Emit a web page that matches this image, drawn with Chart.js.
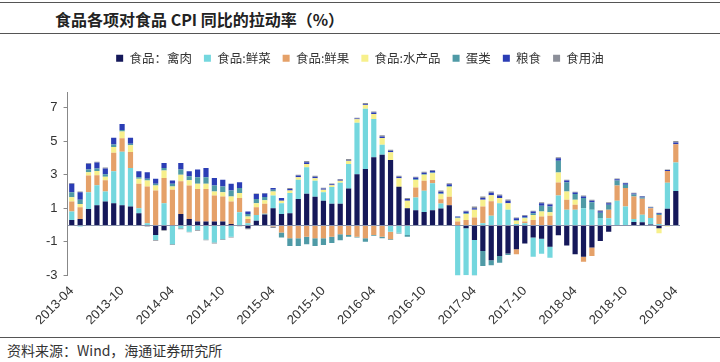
<!DOCTYPE html>
<html>
<head>
<meta charset="utf-8">
<script src="https://cdn.jsdelivr.net/npm/chart.js@4.4.1/dist/chart.umd.min.js"></script>
<style>
  body { margin: 0; width: 720px; height: 362px; background: #fff; position: relative; overflow: hidden;
         font-family: "Noto Sans CJK SC", "Noto Sans", sans-serif; color: #333; }
  .title { position: absolute; left: 0; top: 2px; width: 720px; height: 32px; border-top: 1.5px solid #555;
           border-bottom: 1.5px solid #555; box-sizing: border-box; }
  .title span { position: absolute; left: 55px; top: 4px; font-size: 16px; font-weight: bold; color: #222; }
  .chart-box { position: absolute; left: 0; top: 40px; width: 720px; height: 295px; }
  .foot { position: absolute; left: 0; top: 337px; width: 720px; border-top: 1.5px solid #555; }
  .foot span { position: absolute; left: 7px; top: 2px; font-size: 14px; color: #333; white-space: nowrap; }
</style>
</head>
<body>
<div class="title"><span>食品各项对食品 CPI 同比的拉动率（%）</span></div>
<div class="chart-box"><canvas id="cpiChart" width="720" height="295"></canvas></div>
<div class="foot"><span>资料来源：Wind，海通证券研究所</span></div>

<script>
// months 2013-04 .. 2019-04
const months = [];
for (let y = 2013, m = 4; y < 2019 || (y === 2019 && m <= 4); m++) {
  if (m > 12) { m = 1; y++; }
  if (y === 2019 && m > 4) break;
  months.push(y + "-" + String(m).padStart(2, "0"));
}

const yTicks = [-3, -1, 1, 3, 5, 7];

// pull on food CPI yoy, percentage points
const meat = [0.3, 0.35, 0.95, 1.17, 1.4, 1.3, 1.17, 1.1, 0.7, -0.05,
  -0.6, -0.3, -0.05, 0.65, 0.36, 0.2, 0.2, 0.2, 0.2, 0.05,
  0.0, -0.2, 0.25, 0.62, 1.0, 0.65, 0.7, 1.55, 1.86, 1.68,
  1.45, 1.27, 1.27, 2.18, 3.03, 3.33, 4.04, 4.18, 3.88, 2.28,
  1.0, 0.88, 0.77, 0.88, 0.98, 1.18, -0.05, -0.2, -0.9, -1.55,
  -2.1, -1.85, -1.7, -1.45, -1.1, -0.75, -0.82, -1.3, -0.62, -1.22,
  -1.75, -1.9, -1.35, -0.96, -0.4, -0.05, -0.03, 0.18, 0.16, 0.02,
  -0.2, 0.96, 2.02];
const vegetables = [0.5, -0.1, 1.0, 1.2, 0.6, 1.9, 3.2, 2.3, 0.3, 0.1,
  -0.3, 1.3, -1.1, -0.2, -0.4, -0.3, -0.87, -1.05, -0.85, -0.7,
  0.75, 0.1, 0.35, 0.05, 0.75, 0.65, 1.2, 1.15, 1.58, 0.95,
  0.5, 1.0, 1.25, 1.45, 3.07, 3.6, 2.28, 0.6, -0.4, -0.46,
  -0.6, 0.75, 1.27, 1.6, 0.3, -0.05, -3.0, -2.8, -2.1, 0.1,
  0.55, 1.3, 0.9, 0.05, 0.1, -1.15, -0.9, -0.65, 1.76, 0.9,
  0.9, 1.0, 0.9, 0.42, 0.4, 1.45, 1.1, 0.17, 0.45, 0.4,
  0.05, 1.56, 1.7];
const fruit = [0.6, 0.7, 1.0, 0.6, 0.67, 1.1, 0.8, 0.95, 1.45, 2.2,
  2.05, 1.5, 2.1, 1.95, 2.0, 1.95, 1.95, 1.55, 1.5, 1.35,
  0.85, 0.25, 0.45, 0.6, -0.1, -0.45, -0.8, -0.8, -0.7, -0.8,
  -0.8, -0.7, -0.55, -0.6, -0.7, -0.8, -0.6, -0.7, -0.45, 0.0,
  0.0, 0.6, 0.6, 0.2, 0.25, 0.5, 0.2, 0.3, 0.45, 1.0,
  0.87, 0.0, 0.0, -0.3, 0.1, 0.3, 0.5, 0.55, 0.77, 0.6,
  0.3, -0.3, -0.5, 0.0, 0.5, 0.9, 1.1, 1.35, 0.95, 0.58,
  0.55, 0.7, 1.1];
const aquatic = [0.25, 0.2, 0.2, 0.25, 0.2, 0.35, 0.4, 0.4, 0.3, 0.35,
  0.3, 0.45, 0.2, 0.4, 0.3, 0.3, 0.3, 0.25, 0.25, 0.3,
  0.3, 0.15, 0.25, 0.2, 0.25, 0.15, 0.15, 0.15, 0.2, 0.15,
  0.15, 0.1, 0.12, 0.2, 0.2, 0.22, 0.3, 0.4, 0.45, 0.5,
  0.45, 0.45, 0.35, 0.4, 0.3, 0.6, 0.2, 0.35, 0.45, 0.4,
  0.35, 0.3, 0.4, 0.2, 0.2, 0.3, 0.3, 0.2, 0.6, 0.5,
  0.3, 0.0, 0.0, 0.0, 0.0, 0.0, 0.0, 0.0, 0.0, 0.0,
  -0.3, -0.1, -0.05];
const eggs = [0.3, 0.25, 0.15, 0.15, 0.15, 0.15, 0.1, 0.1, 0.1, 0.1,
  0.1, 0.15, 0.15, 0.3, 0.25, 0.4, 0.4, 0.35, 0.35, 0.35,
  0.3, 0.15, 0.25, 0.2, 0.1, -0.3, -0.45, -0.45, -0.45, -0.45,
  -0.4, -0.37, -0.37, -0.1, -0.05, -0.2, -0.05, -0.1, -0.05, -0.05,
  -0.1, 0.05, 0.05, 0.05, 0.05, 0.05, 0.05, 0.05, -0.05, -0.9,
  -0.3, -0.4, -0.1, 0.05, 0.05, 0.1, 0.35, 0.35, 0.7, 0.55,
  0.35, 0.6, 0.45, 0.3, 0.3, 0.3, 0.2, 0.12, 0.08, 0.03,
  0.05, 0.0, 0.0];
const grain = [0.5, 0.45, 0.35, 0.35, 0.35, 0.4, 0.35, 0.35, 0.35, 0.4,
  0.3, 0.3, 0.2, 0.4, 0.3, 0.45, 0.55, 0.45, 0.4, 0.4,
  0.35, 0.15, 0.3, 0.2, 0.1, 0.15, 0.1, 0.1, 0.1, 0.1,
  0.07, 0.05, 0.05, 0.05, 0.05, 0.05, 0.08, 0.1, 0.1, 0.1,
  0.1, 0.1, 0.08, 0.1, 0.1, 0.1, 0.05, 0.1, 0.1, 0.1,
  0.15, 0.15, 0.15, 0.1, 0.1, 0.1, 0.15, 0.12, 0.15, 0.1,
  0.08, 0.1, 0.1, 0.1, 0.1, 0.08, 0.08, 0.05, 0.05, 0.03,
  0.05, 0.05, 0.1];
const oil = [0.05, 0.05, 0.05, 0.05, 0.05, -0.05, -0.06, -0.05, -0.05, -0.05,
  -0.05, -0.05, -0.05, -0.05, -0.04, -0.05, -0.05, -0.05, -0.05, -0.05,
  -0.08, -0.05, 0.03, 0.03, -0.08, 0.0, 0.05, 0.05, 0.08, 0.05,
  0.05, 0.05, 0.05, 0.05, 0.05, 0.07, 0.07, 0.07, 0.05, 0.05,
  0.05, 0.05, 0.05, 0.05, 0.07, 0.05, 0.0, 0.05, 0.1, 0.1,
  0.08, 0.07, 0.07, 0.05, 0.05, 0.05, 0.05, 0.05, 0.06, 0.05,
  0.05, 0.06, 0.05, 0.05, 0.05, 0.04, 0.04, 0.05, 0.03, 0.02,
  0.03, 0.03, 0.08];

const series = [
  { label: "食品：禽肉", data: meat, color: "#15185a" },
  { label: "食品:鲜菜", data: vegetables, color: "#74d7de" },
  { label: "食品:鲜果", data: fruit, color: "#e5a169" },
  { label: "食品:水产品", data: aquatic, color: "#f7f08c" },
  { label: "蛋类", data: eggs, color: "#4f9aa6" },
  { label: "粮食", data: grain, color: "#2b3db5" },
  { label: "食用油", data: oil, color: "#8c8f99" },
];

// horizontal line at zero
const zeroLine = {
  id: "zeroLine",
  afterDatasetsDraw(chart) {
    const { ctx, chartArea, scales } = chart;
    const y = Math.round(scales.y.getPixelForValue(0)) + 0.5;
    ctx.save();
    ctx.strokeStyle = "#8a93ab";
    ctx.lineWidth = 1;
    ctx.beginPath();
    ctx.moveTo(chartArea.left, y);
    ctx.lineTo(chartArea.right, y);
    ctx.stroke();
    ctx.restore();
  },
};

// push the plot a bit further below the legend
const legendGap = {
  id: "legendGap",
  beforeInit(chart) {
    const fit = chart.legend.fit;
    chart.legend.fit = function () {
      fit.bind(this)();
      this.height += 18;
    };
  },
};

new Chart(document.getElementById("cpiChart"), {
  type: "bar",
  data: {
    labels: months,
    datasets: series.map((s) => ({
      label: s.label,
      data: s.data,
      backgroundColor: s.color,
      borderWidth: 0,
      barPercentage: 0.62,
      categoryPercentage: 1.0,
    })),
  },
  options: {
    responsive: false,
    animation: false,
    layout: { padding: { left: 40, right: 40, top: 0, bottom: 7 } },
    plugins: {
      legend: {
        position: "top",
        labels: {
          boxWidth: 7,
          boxHeight: 7,
          padding: 12,
          color: "#333",
          font: { size: 12.5, family: "'Noto Sans CJK SC', sans-serif" },
        },
      },
      tooltip: { enabled: false },
    },
    scales: {
      x: {
        stacked: true,
        grid: { display: false },
        border: { display: false },
        ticks: {
          autoSkip: false,
          maxRotation: 45,
          minRotation: 45,
          padding: 0,
          color: "#333",
          font: { size: 13, family: "'Liberation Sans', Arial, sans-serif" },
          callback: (v, i) => (i % 6 === 0 ? months[i] : ""),
        },
      },
      y: {
        stacked: true,
        min: -3,
        max: 7.9,
        afterBuildTicks: (scale) => {
          scale.ticks = yTicks.map((v) => ({ value: v }));
        },
        grid: { drawOnChartArea: false, drawTicks: true, tickLength: 4, color: "#888" },
        border: { display: true, color: "#888" },
        ticks: {
          color: "#333",
          padding: 6,
          font: { size: 13, family: "'Liberation Sans', Arial, sans-serif" },
        },
      },
    },
  },
  plugins: [zeroLine, legendGap],
});
</script>
</body>
</html>
